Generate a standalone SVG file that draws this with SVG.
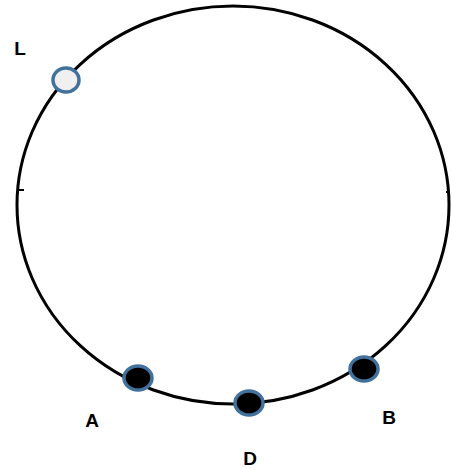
<svg xmlns="http://www.w3.org/2000/svg" width="452" height="469" viewBox="0 0 452 469">
<style>
.ring{fill:none;stroke:#000;stroke-width:3}
.pt{stroke:#41719c;stroke-width:3.5}
.lbl{font-family:"Liberation Sans",Arial,sans-serif;font-weight:bold;font-size:19px;fill:#000;text-anchor:middle}
</style>
<rect width="452" height="469" fill="#fff"/>
<g id="connectors">
<ellipse class="ring" cx="233" cy="205" rx="216" ry="199"/>
<line x1="17" y1="190" x2="24" y2="190" stroke="#000" stroke-width="2"/>
<line x1="446" y1="192" x2="450" y2="192" stroke="#000" stroke-width="2"/>
</g>
<g id="L"><ellipse class="pt" cx="66" cy="80" rx="13" ry="12" fill="#f0f0f0"/><text class="lbl" x="20" y="55">L</text></g>
<g id="A"><ellipse class="pt" cx="138" cy="378" rx="14" ry="12" fill="#000"/><text class="lbl" x="92" y="427">A</text></g>
<g id="D"><ellipse class="pt" cx="249" cy="403" rx="14" ry="12" fill="#000"/><text class="lbl" x="250" y="465">D</text></g>
<g id="B"><ellipse class="pt" cx="364" cy="369" rx="14" ry="12" fill="#000"/><text class="lbl" x="389" y="424">B</text></g>
</svg>
